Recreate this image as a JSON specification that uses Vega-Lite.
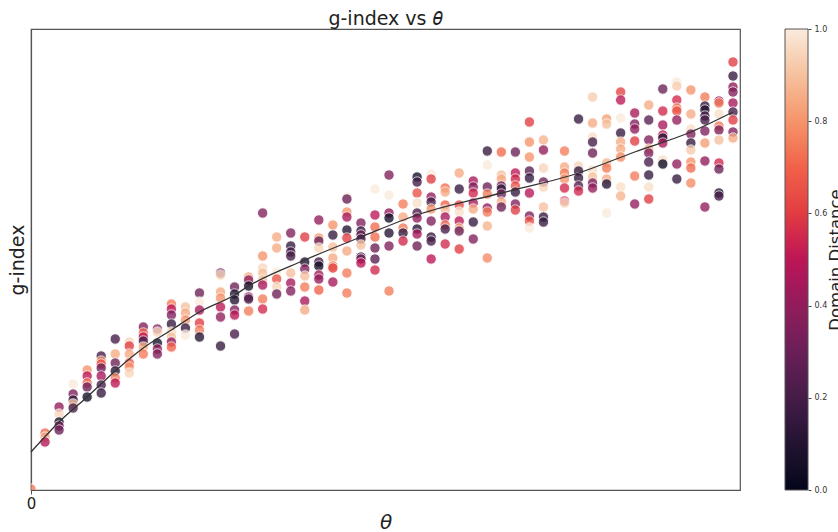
{"$schema":"https://vega.github.io/schema/vega-lite/v6.json","width":709,"height":461,"autosize":{"type":"none"},"padding":{"left":31,"top":29,"right":98,"bottom":42},"background":"white","config":{"view":{"stroke":"#555","strokeWidth":1.2}},"title":{"text":"g-index vs 𝜃","fontSize":19,"font":"DejaVu Sans","fontWeight":"normal","color":"#222","anchor":"middle","offset":-4},"resolve":{"scale":{"y":"independent"},"axis":{"y":"independent"}},"layer":[{"data":{"values":[
{"t":0,"g":0.1,"d":0.75},
{"t":1,"g":5.7,"d":0.72},{"t":1,"g":5.3,"d":0.85},{"t":1,"g":4.8,"d":0.48},
{"t":2,"g":8.3,"d":0.4},{"t":2,"g":7.6,"d":0.95},{"t":2,"g":6.8,"d":0.05},{"t":2,"g":6.4,"d":0.35},{"t":2,"g":6.0,"d":0.3},
{"t":3,"g":10.6,"d":1},{"t":3,"g":9.6,"d":0.35},{"t":3,"g":9.0,"d":0.15},{"t":3,"g":8.6,"d":0.9},{"t":3,"g":8.2,"d":0.2},
{"t":4,"g":12.0,"d":0.8},{"t":4,"g":11.4,"d":0.5},{"t":4,"g":10.7,"d":0.72},{"t":4,"g":10.3,"d":0.3},{"t":4,"g":9.3,"d":0.05},
{"t":5,"g":13.4,"d":0.2},{"t":5,"g":12.9,"d":0.8},{"t":5,"g":12.6,"d":0.65},{"t":5,"g":12.2,"d":0.3},{"t":5,"g":11.4,"d":0.45},{"t":5,"g":10.5,"d":0.2},{"t":5,"g":9.7,"d":0.15},
{"t":6,"g":15.1,"d":0.2},{"t":6,"g":13.6,"d":0.85},{"t":6,"g":12.7,"d":0.3},{"t":6,"g":11.9,"d":0.1},{"t":6,"g":11.2,"d":0.75},{"t":6,"g":10.7,"d":0.5},
{"t":7,"g":14.8,"d":0.95},{"t":7,"g":14.4,"d":0.6},{"t":7,"g":13.6,"d":0.85},{"t":7,"g":12.7,"d":0.65},{"t":7,"g":12.3,"d":0.8},{"t":7,"g":11.7,"d":0.95},
{"t":8,"g":16.3,"d":0.35},{"t":8,"g":15.7,"d":0.7},{"t":8,"g":15.3,"d":0.5},{"t":8,"g":14.9,"d":0.2},{"t":8,"g":14.3,"d":0.85},{"t":8,"g":13.6,"d":0.75},
{"t":9,"g":16.1,"d":0.35},{"t":9,"g":15.8,"d":0.95},{"t":9,"g":14.7,"d":0.05},{"t":9,"g":14.1,"d":0.4},{"t":9,"g":13.6,"d":0.35},
{"t":10,"g":18.6,"d":0.75},{"t":10,"g":18.1,"d":0.5},{"t":10,"g":17.5,"d":0.35},{"t":10,"g":16.6,"d":0.15},{"t":10,"g":15.8,"d":0.95},{"t":10,"g":15.3,"d":0.9},{"t":10,"g":14.8,"d":0.4},{"t":10,"g":14.3,"d":0.7},
{"t":11,"g":18.3,"d":0.9},{"t":11,"g":17.7,"d":0.85},{"t":11,"g":17.0,"d":0.8},{"t":11,"g":16.2,"d":0.15},{"t":11,"g":15.5,"d":1},
{"t":12,"g":19.7,"d":0.3},{"t":12,"g":18.8,"d":1},{"t":12,"g":18.0,"d":0.45},{"t":12,"g":16.7,"d":0.6},{"t":12,"g":16.0,"d":0.75},{"t":12,"g":15.3,"d":0.1},
{"t":13.5,"g":21.7,"d":0.3},{"t":13.5,"g":21.5,"d":0.95},{"t":13.5,"g":19.8,"d":0.85},{"t":13.5,"g":19.2,"d":0.8},{"t":13.5,"g":18.3,"d":0.5},{"t":13.5,"g":17.3,"d":0.4},{"t":13.5,"g":14.4,"d":0.15},
{"t":14.5,"g":20.3,"d":0.3},{"t":14.5,"g":19.6,"d":0.1},{"t":14.5,"g":19.0,"d":0.1},{"t":14.5,"g":18.0,"d":0.35},{"t":14.5,"g":17.5,"d":0.5},{"t":14.5,"g":15.6,"d":0.2},
{"t":15.5,"g":21.3,"d":0.85},{"t":15.5,"g":21.0,"d":0.4},{"t":15.5,"g":20.4,"d":0.05},{"t":15.5,"g":19.3,"d":0.4},{"t":15.5,"g":19.1,"d":0.2},{"t":15.5,"g":17.9,"d":0.75},
{"t":16.5,"g":27.7,"d":0.35},{"t":16.5,"g":23.4,"d":0.8},{"t":16.5,"g":22.2,"d":0.95},{"t":16.5,"g":21.7,"d":0.9},{"t":16.5,"g":21.0,"d":0.9},{"t":16.5,"g":20.5,"d":0.45},{"t":16.5,"g":19.1,"d":0.75},{"t":16.5,"g":18.1,"d":0.55},
{"t":17.5,"g":25.3,"d":0.85},{"t":17.5,"g":24.2,"d":0.85},{"t":17.5,"g":21.8,"d":1},{"t":17.5,"g":21.1,"d":0.65},{"t":17.5,"g":20.3,"d":0.95},{"t":17.5,"g":19.6,"d":0.3},
{"t":18.5,"g":25.7,"d":0.35},{"t":18.5,"g":24.4,"d":0.15},{"t":18.5,"g":23.8,"d":0.2},{"t":18.5,"g":23.4,"d":0.2},{"t":18.5,"g":21.7,"d":0.9},{"t":18.5,"g":20.7,"d":0.45},{"t":18.5,"g":19.9,"d":0.35},
{"t":19.5,"g":25.3,"d":0.6},{"t":19.5,"g":22.8,"d":0.1},{"t":19.5,"g":22.1,"d":0.35},{"t":19.5,"g":21.4,"d":0.9},{"t":19.5,"g":20.3,"d":0.75},{"t":19.5,"g":18.9,"d":0.45},{"t":19.5,"g":18.0,"d":0.85},
{"t":20.5,"g":27.0,"d":0.4},{"t":20.5,"g":25.2,"d":0.8},{"t":20.5,"g":24.9,"d":0.3},{"t":20.5,"g":24.2,"d":0.95},{"t":20.5,"g":22.8,"d":0.2},{"t":20.5,"g":22.4,"d":0.05},{"t":20.5,"g":21.5,"d":0.45},{"t":20.5,"g":21.1,"d":0.4},{"t":20.5,"g":20.0,"d":0.7},
{"t":21.5,"g":26.5,"d":0.8},{"t":21.5,"g":25.5,"d":0.15},{"t":21.5,"g":24.3,"d":0.9},{"t":21.5,"g":23.2,"d":0.85},{"t":21.5,"g":22.4,"d":0.75},{"t":21.5,"g":22.2,"d":0.62},{"t":21.5,"g":20.8,"d":0.45},
{"t":22.5,"g":29.3,"d":1},{"t":22.5,"g":29.1,"d":0.3},{"t":22.5,"g":27.8,"d":0.8},{"t":22.5,"g":27.3,"d":0.45},{"t":22.5,"g":26.0,"d":0.1},{"t":22.5,"g":25.2,"d":0.6},{"t":22.5,"g":23.9,"d":0.85},{"t":22.5,"g":21.7,"d":0.75},{"t":22.5,"g":19.7,"d":0.75},
{"t":23.5,"g":26.7,"d":0.35},{"t":23.5,"g":25.9,"d":0.15},{"t":23.5,"g":25.5,"d":0.3},{"t":23.5,"g":25.1,"d":0.2},{"t":23.5,"g":24.5,"d":0.9},{"t":23.5,"g":23.3,"d":0.2},{"t":23.5,"g":23.1,"d":0.3},{"t":23.5,"g":22.7,"d":0.5},
{"t":24.5,"g":30.1,"d":1},{"t":24.5,"g":27.5,"d":0.5},{"t":24.5,"g":26.3,"d":0.72},{"t":24.5,"g":25.3,"d":0.72},{"t":24.5,"g":24.2,"d":0.3},{"t":24.5,"g":23.1,"d":0.25},{"t":24.5,"g":22.0,"d":0.55},
{"t":25.5,"g":31.5,"d":0.35},{"t":25.5,"g":29.5,"d":1},{"t":25.5,"g":27.7,"d":0.4},{"t":25.5,"g":27.2,"d":0.05},{"t":25.5,"g":25.7,"d":0.1},{"t":25.5,"g":24.4,"d":0.35},{"t":25.5,"g":19.9,"d":0.75},
{"t":26.5,"g":28.6,"d":0.75},{"t":26.5,"g":27.3,"d":0.85},{"t":26.5,"g":26.2,"d":0.75},{"t":26.5,"g":25.7,"d":0.15},{"t":26.5,"g":24.9,"d":0.55},
{"t":27.5,"g":31.3,"d":0.05},{"t":27.5,"g":30.8,"d":0.2},{"t":27.5,"g":29.7,"d":0.65},{"t":27.5,"g":28.7,"d":0.97},{"t":27.5,"g":27.7,"d":0.2},{"t":27.5,"g":27.2,"d":0.4},{"t":27.5,"g":26.1,"d":0.1},{"t":27.5,"g":25.6,"d":0.45},{"t":27.5,"g":24.4,"d":0.3},
{"t":28.5,"g":31.6,"d":1},{"t":28.5,"g":31.1,"d":0.6},{"t":28.5,"g":29.3,"d":0.4},{"t":28.5,"g":28.8,"d":0.2},{"t":28.5,"g":28.1,"d":0.8},{"t":28.5,"g":26.9,"d":0.35},{"t":28.5,"g":25.3,"d":0.15},{"t":28.5,"g":24.9,"d":0.2},{"t":28.5,"g":23.1,"d":0.5},
{"t":29.5,"g":30.2,"d":0.72},{"t":29.5,"g":29.8,"d":0.85},{"t":29.5,"g":28.5,"d":0.7},{"t":29.5,"g":28.0,"d":0.9},{"t":29.5,"g":27.3,"d":0.45},{"t":29.5,"g":26.5,"d":0.7},{"t":29.5,"g":26.1,"d":0.2},{"t":29.5,"g":24.6,"d":0.55},
{"t":30.5,"g":31.7,"d":0.85},{"t":30.5,"g":30.1,"d":0.15},{"t":30.5,"g":28.5,"d":0.65},{"t":30.5,"g":27.8,"d":0.97},{"t":30.5,"g":26.9,"d":0.5},{"t":30.5,"g":26.2,"d":0.85},{"t":30.5,"g":25.9,"d":0.3},{"t":30.5,"g":24.1,"d":0.6},
{"t":31.5,"g":30.9,"d":0.45},{"t":31.5,"g":30.3,"d":0.35},{"t":31.5,"g":29.7,"d":0.55},{"t":31.5,"g":28.7,"d":0.45},{"t":31.5,"g":28.1,"d":0.85},{"t":31.5,"g":26.8,"d":0.15},{"t":31.5,"g":25.1,"d":0.35},
{"t":32.5,"g":33.9,"d":0.15},{"t":32.5,"g":32.5,"d":1},{"t":32.5,"g":30.3,"d":0.3},{"t":32.5,"g":29.6,"d":0.75},{"t":32.5,"g":28.2,"d":0.4},{"t":32.5,"g":27.8,"d":0.75},{"t":32.5,"g":26.4,"d":0.87},{"t":32.5,"g":23.2,"d":0.78},
{"t":33.5,"g":33.8,"d":0.72},{"t":33.5,"g":31.5,"d":0.9},{"t":33.5,"g":31.1,"d":0.85},{"t":33.5,"g":30.4,"d":0.3},{"t":33.5,"g":30.1,"d":0.15},{"t":33.5,"g":29.6,"d":0.3},{"t":33.5,"g":28.8,"d":0.85},{"t":33.5,"g":28.3,"d":0.3},
{"t":34.5,"g":33.8,"d":0.3},{"t":34.5,"g":31.7,"d":0.5},{"t":34.5,"g":31.1,"d":0.55},{"t":34.5,"g":30.4,"d":0.65},{"t":34.5,"g":29.8,"d":0.15},{"t":34.5,"g":28.6,"d":0.35},{"t":34.5,"g":28.0,"d":0.6},
{"t":35.5,"g":36.8,"d":0.6},{"t":35.5,"g":34.8,"d":0.8},{"t":35.5,"g":33.3,"d":0.8},{"t":35.5,"g":31.9,"d":0.25},{"t":35.5,"g":31.2,"d":0.15},{"t":35.5,"g":29.7,"d":0.48},{"t":35.5,"g":27.4,"d":0.35},{"t":35.5,"g":26.9,"d":0.65},{"t":35.5,"g":26.2,"d":1},
{"t":36.5,"g":35.0,"d":0.87},{"t":36.5,"g":34.0,"d":0.4},{"t":36.5,"g":32.2,"d":0.95},{"t":36.5,"g":30.8,"d":0.3},{"t":36.5,"g":30.3,"d":0.95},{"t":36.5,"g":28.3,"d":0.9},{"t":36.5,"g":27.3,"d":0.15},{"t":36.5,"g":26.8,"d":0.15},
{"t":38,"g":33.9,"d":0.75},{"t":38,"g":32.3,"d":0.85},{"t":38,"g":31.7,"d":0.75},{"t":38,"g":31.1,"d":0.8},{"t":38,"g":30.2,"d":0.55},{"t":38,"g":28.9,"d":0.55},{"t":38,"g":28.7,"d":0.95},
{"t":39,"g":37.1,"d":0.15},{"t":39,"g":32.4,"d":0.95},{"t":39,"g":31.9,"d":0.15},{"t":39,"g":31.2,"d":0.15},{"t":39,"g":30.4,"d":0.25},{"t":39,"g":29.9,"d":0.55},
{"t":40,"g":39.3,"d":0.93},{"t":40,"g":36.7,"d":0.85},{"t":40,"g":35.3,"d":0.97},{"t":40,"g":34.8,"d":0.2},{"t":40,"g":33.7,"d":0.3},{"t":40,"g":32.0,"d":0.97},{"t":40,"g":31.3,"d":0.9},{"t":40,"g":30.7,"d":0.35},{"t":40,"g":30.2,"d":0.4},
{"t":41,"g":37.1,"d":0.82},{"t":41,"g":36.6,"d":0.9},{"t":41,"g":32.7,"d":0.87},{"t":41,"g":32.2,"d":0.75},{"t":41,"g":31.1,"d":0.85},{"t":41,"g":30.6,"d":0.1},{"t":41,"g":27.7,"d":1},
{"t":42,"g":39.8,"d":0.62},{"t":42,"g":39.0,"d":0.5},{"t":42,"g":37.2,"d":1},{"t":42,"g":35.7,"d":0.15},{"t":42,"g":34.8,"d":0.85},{"t":42,"g":34.1,"d":0.85},{"t":42,"g":33.3,"d":0.78},{"t":42,"g":30.3,"d":0.97},{"t":42,"g":29.4,"d":0.87},
{"t":43,"g":37.7,"d":0.45},{"t":43,"g":36.6,"d":0.35},{"t":43,"g":36.1,"d":0.4},{"t":43,"g":34.9,"d":0.6},{"t":43,"g":31.4,"d":0.75},{"t":43,"g":28.6,"d":0.4},
{"t":44,"g":38.5,"d":0.85},{"t":44,"g":37.0,"d":0.25},{"t":44,"g":35.0,"d":0.35},{"t":44,"g":34.1,"d":0.85},{"t":44,"g":33.7,"d":0.35},{"t":44,"g":32.8,"d":0.2},{"t":44,"g":31.5,"d":0.15},{"t":44,"g":30.3,"d":0.97},{"t":44,"g":29.1,"d":0.6},
{"t":45,"g":40.1,"d":0.3},{"t":45,"g":37.9,"d":0.55},{"t":45,"g":36.5,"d":0.45},{"t":45,"g":35.5,"d":0.5},{"t":45,"g":35.2,"d":0.1},{"t":45,"g":34.7,"d":0.45},{"t":45,"g":33.0,"d":0.97},{"t":45,"g":32.6,"d":0.02},
{"t":46,"g":40.8,"d":1},{"t":46,"g":40.4,"d":0.93},{"t":46,"g":39.0,"d":0.55},{"t":46,"g":38.2,"d":0.75},{"t":46,"g":37.9,"d":0.65},{"t":46,"g":37.0,"d":0.4},{"t":46,"g":32.6,"d":0.4},{"t":46,"g":31.1,"d":0.15},
{"t":47,"g":40.0,"d":0.8},{"t":47,"g":37.6,"d":0.85},{"t":47,"g":36.1,"d":0.97},{"t":47,"g":35.6,"d":0.35},{"t":47,"g":34.7,"d":0.15},{"t":47,"g":34.0,"d":0.92},{"t":47,"g":32.8,"d":0.8},{"t":47,"g":32.2,"d":0.72},{"t":47,"g":30.7,"d":0.78},
{"t":48,"g":39.3,"d":0.75},{"t":48,"g":38.4,"d":0.15},{"t":48,"g":38.0,"d":0.1},{"t":48,"g":37.4,"d":0.2},{"t":48,"g":37.0,"d":0.2},{"t":48,"g":35.9,"d":0.35},{"t":48,"g":34.7,"d":0.82},{"t":48,"g":32.9,"d":0.4},{"t":48,"g":28.3,"d":0.4},
{"t":49,"g":38.9,"d":0.45},{"t":49,"g":38.7,"d":0.75},{"t":49,"g":37.6,"d":0.97},{"t":49,"g":36.4,"d":0.75},{"t":49,"g":36.0,"d":0.35},{"t":49,"g":35.0,"d":0.9},{"t":49,"g":32.7,"d":0.55},{"t":49,"g":32.1,"d":0.3},{"t":49,"g":29.7,"d":0.1},{"t":49,"g":29.4,"d":0.2},
{"t":50,"g":42.8,"d":0.6},{"t":50,"g":41.4,"d":0.15},{"t":50,"g":40.3,"d":0.4},{"t":50,"g":39.8,"d":0.35},{"t":50,"g":38.7,"d":0.45},{"t":50,"g":37.8,"d":0.2},{"t":50,"g":37.0,"d":0.6},{"t":50,"g":35.8,"d":0.35},{"t":50,"g":35.2,"d":0.85}
]},"mark":{"type":"circle","size":108,"opacity":0.78,"stroke":"white","strokeWidth":0.9,"clip":true},"encoding":{"x":{"field":"t","type":"quantitative","scale":{"domain":[0,50.5],"nice":false,"zero":false},"axis":{"values":[0],"format":"d","grid":false,"labelFlush":false,"labelFont":"DejaVu Sans","labelFontSize":15,"labelColor":"#222","labelPadding":2,"tickSize":4,"tickColor":"#555","domainColor":"#555","domainWidth":1.2,"title":"θ","titleFontStyle":"italic","titleFont":"DejaVu Sans","titleFontWeight":"normal","titleFontSize":20,"titleColor":"#222","titlePadding":1}},"y":{"field":"g","type":"quantitative","scale":{"domain":[0,46.1],"nice":false,"zero":false},"axis":{"orient":"left","grid":false,"labels":false,"ticks":false,"domainColor":"#555","domainWidth":1.2,"title":"g-index","titleFont":"DejaVu Sans","titleFontWeight":"normal","titleFontSize":19,"titleColor":"#222","titlePadding":4}},"color":{"field":"d","type":"quantitative","scale":{"domain":[0,0.1,0.2,0.3,0.4,0.5,0.6,0.7,0.8,0.9,1],"range":["#03051A","#221331","#451C47","#6A1F56","#921C5B","#BC1656","#E13C42","#F1614A","#F5946B","#F6C19E","#FAEBDD"]},"legend":{"orient":"none","legendX":754,"legendY":0,"title":null,"gradientLength":461,"gradientThickness":23,"gradientOpacity":1,"gradientStrokeColor":"#555","gradientStrokeWidth":1,"labelOpacity":0,"labelFontSize":1,"values":[0.5],"direction":"vertical"}}}},
{"data":{"values":[{"t":0,"g":3.8},{"t":2,"g":6.8},{"t":4,"g":9.3},{"t":6,"g":11.9},{"t":8,"g":14.2},{"t":10,"g":16.0},{"t":12,"g":17.8},{"t":14.5,"g":19.5},{"t":15.5,"g":20.4},{"t":19.5,"g":23.0},{"t":23.5,"g":25.3},{"t":27.5,"g":27.5},{"t":33.5,"g":29.7},{"t":39,"g":31.7},{"t":43,"g":33.8},{"t":47,"g":35.8},{"t":50,"g":37.8}]},"mark":{"type":"line","color":"#333","strokeWidth":1.3,"interpolate":"monotone"},"encoding":{"x":{"field":"t","type":"quantitative"},"y":{"field":"g","type":"quantitative","scale":{"domain":[0,46.1],"nice":false,"zero":false},"axis":null}}},
{"data":{"values":[{"d":0},{"d":0.2},{"d":0.4},{"d":0.6},{"d":0.8},{"d":1}]},"mark":{"type":"point","opacity":0},"encoding":{"y":{"field":"d","type":"quantitative","scale":{"domain":[0,1],"nice":false,"zero":false},"axis":{"orient":"right","offset":68,"values":[0,0.2,0.4,0.6,0.8,1],"format":".1f","domain":false,"grid":false,"labelFlush":false,"tickSize":3,"tickColor":"#444","labelFont":"DejaVu Sans","labelFontSize":8,"labelColor":"#333","labelPadding":3,"title":"Domain Distance","titleFont":"DejaVu Sans","titleFontWeight":"normal","titleFontSize":16.5,"titleColor":"#222","titleAngle":270,"titlePadding":17}}}}
]}
